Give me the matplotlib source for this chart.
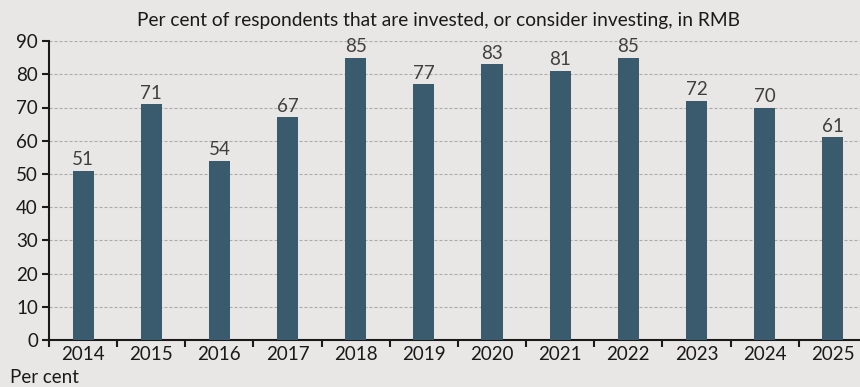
import matplotlib.pyplot as plt
import numpy as np

years = ["2014", "2015", "2016", "2017", "2018", "2019",
         "2020", "2021", "2022", "2023", "2024", "2025"]
share = [51, 71, 54, 67, 85, 77, 83, 81, 85, 72, 70, 61]

BG = "#e8e7e5"
BAR = "#3a5a6e"

plt.rcParams["font.family"] = ["Lato", "DejaVu Sans"]

fig = plt.figure(figsize=(8.6, 3.87), dpi=100, facecolor=BG)
ax = fig.add_axes([0.057, 0.121, 0.951, 0.773], facecolor=BG)

x = np.arange(len(years))
ax.bar(x, share, width=0.31, color=BAR, zorder=3)

for xi, v in zip(x, share):
    ax.text(xi, v + 0.8, str(v), ha="center", va="bottom",
            fontsize=13.5, color="#404040", zorder=4)

ax.set_xlim(-0.5, len(years) - 0.5)
ax.set_ylim(0, 90)
ax.set_yticks(range(0, 91, 10))
ax.set_xticks(x)
ax.set_xticklabels(years)
ax.set_xticks(np.arange(-0.5, len(years)), minor=True)

ax.tick_params(axis="x", which="major", length=0, pad=4, labelsize=13.5, colors="#1a1a1a")
ax.tick_params(axis="x", which="minor", length=5, width=1.5, color="#1a1a1a")
ax.tick_params(axis="y", length=5, width=1.5, pad=3, labelsize=13.5,
               colors="#1a1a1a")

for y in range(10, 91, 10):
    ax.axhline(y, color="#ababab", lw=0.8, ls=(0, (2.7, 1.8)), zorder=1)

for side in ("top", "right"):
    ax.spines[side].set_visible(False)
for side in ("left", "bottom"):
    ax.spines[side].set_linewidth(1.5)
    ax.spines[side].set_color("#1a1a1a")

fig.text(0.51, 0.948, "Per cent of respondents that are invested, or consider investing, in RMB",
         ha="center", va="center", fontsize=13.8, color="#1a1a1a")
fig.text(0.012, 0.025, "Per cent", ha="left", va="center", fontsize=13.5, color="#1a1a1a")

fig.savefig("out.png", dpi=100, facecolor=BG)
